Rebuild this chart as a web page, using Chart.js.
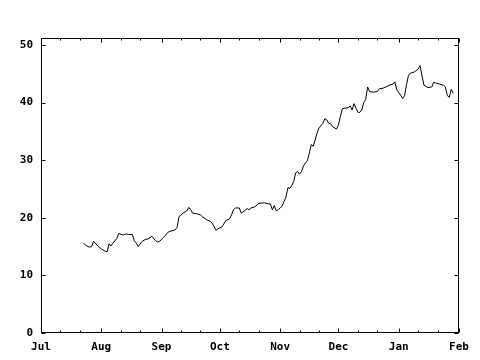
<!DOCTYPE html>
<html>
<head>
<meta charset="utf-8">
<script src="https://cdn.jsdelivr.net/npm/chart.js@4/dist/chart.umd.min.js"></script>
<style>
  html, body { margin: 0; padding: 0; background: #fff; }
  #wrap { width: 480px; height: 360px; }
</style>
</head>
<body>
<div id="wrap"><canvas id="chart" width="480" height="360"></canvas></div>
<script>
// days counted from Jul 1, price
const days = [22, 23, 25, 26, 27, 29, 31, 33, 34, 35, 36, 37, 39, 40, 42, 43, 44, 45, 47, 48,
  49, 50, 52, 54, 55, 57, 59, 60, 61, 63, 64, 65, 66, 69, 70, 71, 73, 75, 76, 77,
  78, 80, 82, 83, 85, 87, 88, 89, 90, 91, 93, 94, 95, 97, 98, 99, 100, 102, 103, 105,
  106, 107, 108, 110, 112, 115, 117, 118, 119, 120, 121, 122, 123, 124, 125, 126, 127, 128, 129, 130,
  131, 132, 133, 134, 135, 136, 137, 138, 139, 140, 141, 142, 143, 145, 146, 147, 148, 149, 150, 152,
  153, 154, 155, 156, 158, 159, 160, 161, 163, 164, 165, 166, 167, 168, 169, 171, 173, 174, 176, 178,
  179, 181, 182, 183, 184, 185, 186, 187, 188, 189, 190, 192, 194, 195, 196, 197, 199, 201, 202, 203,
  205, 207, 208, 209, 210, 211, 212];
const prices = [15.6, 15.2, 14.9, 15.0, 15.9, 15.2, 14.6, 14.2, 14.1, 15.5, 15.1, 15.6, 16.4, 17.3, 17.0, 17.1, 17.2, 17.1, 17.1, 16.0,
  15.6, 15.0, 15.9, 16.3, 16.3, 16.8, 16.0, 15.8, 15.9, 16.6, 16.9, 17.4, 17.6, 17.9, 18.3, 20.2, 20.8, 21.2, 21.8, 21.4,
  20.8, 20.7, 20.5, 20.2, 19.7, 19.4, 19.1, 18.5, 17.8, 18.1, 18.4, 18.9, 19.5, 19.8, 20.5, 21.4, 21.7, 21.7, 20.8, 21.3,
  21.6, 21.4, 21.7, 21.9, 22.5, 22.6, 22.4, 22.4, 21.4, 22.1, 21.2, 21.4, 21.7, 22.0, 22.8, 23.6, 25.2, 25.1, 25.6, 26.3,
  27.8, 28.0, 27.6, 28.0, 29.0, 29.5, 29.9, 31.2, 32.7, 32.4, 33.5, 34.7, 35.6, 36.4, 37.2, 37.0, 36.4, 36.3, 35.8, 35.4,
  36.1, 37.6, 38.9, 39.0, 39.1, 39.4, 38.7, 39.8, 38.3, 38.3, 38.7, 40.0, 40.5, 42.7, 41.9, 41.8, 41.9, 42.4, 42.5, 42.8,
  43.0, 43.2, 43.6, 42.2, 41.7, 41.3, 40.7, 41.2, 43.1, 44.7, 45.1, 45.3, 45.8, 46.4, 44.6, 43.0, 42.6, 42.7, 43.5, 43.4,
  43.2, 43.0, 42.7, 41.2, 40.9, 42.3, 41.6];

const monthLabels = ['Jul', 'Aug', 'Sep', 'Oct', 'Nov', 'Dec', 'Jan', 'Feb'];
const monthStarts = [0, 31, 62, 92, 123, 153, 184, 215];
const yTicks = [0, 10, 20, 30, 40, 50];

const points = days.map((d, i) => ({x: d, y: prices[i]}));

// minor ticks on the 11th and 21st of every month
const minorDays = [];
for (let i = 0; i < monthStarts.length - 1; i++) {
    minorDays.push(monthStarts[i] + 10, monthStarts[i] + 20);
}

const frameTicks = {
    id: 'frameTicks',
    afterDraw(chart) {
        const {ctx, chartArea: a, scales} = chart;
        const L = a.left + 0.5, R = a.right - 0.5, T = a.top + 0.5, B = a.bottom - 0.5;
        ctx.save();
        ctx.strokeStyle = '#000';
        ctx.lineWidth = 1;
        ctx.strokeRect(L, T, R - L, B - T);
        ctx.beginPath();
        yTicks.forEach(v => {
            const y = Math.round(scales.y.getPixelForValue(v)) + 0.5;
            ctx.moveTo(L, y); ctx.lineTo(L + 4, y);
            ctx.moveTo(R, y); ctx.lineTo(R - 4, y);
        });
        monthStarts.forEach(d => {
            const x = Math.round(scales.x.getPixelForValue(d)) + 0.5;
            ctx.moveTo(x, B); ctx.lineTo(x, B - 4);
            ctx.moveTo(x, T); ctx.lineTo(x, T + 4);
        });
        minorDays.forEach(d => {
            const x = Math.round(scales.x.getPixelForValue(d)) + 0.5;
            ctx.moveTo(x, B); ctx.lineTo(x, B - 2);
            ctx.moveTo(x, T); ctx.lineTo(x, T + 2);
        });
        ctx.stroke();
        ctx.restore();
    }
};

const labelFont = {family: '"DejaVu Sans Mono"', size: 11, weight: 'bold'};

new Chart(document.getElementById('chart').getContext('2d'), {
    type: 'line',
    data: {
        datasets: [{
            data: points,
            borderColor: '#000',
            borderWidth: 1,
            pointRadius: 0,
            tension: 0,
            fill: false
        }]
    },
    options: {
        responsive: false,
        animation: false,
        layout: {padding: {left: 0, right: 21, top: 38, bottom: 0}},
        plugins: {legend: {display: false}, tooltip: {enabled: false}},
        scales: {
            x: {
                type: 'linear',
                min: 0,
                max: 215,
                grid: {display: false, drawTicks: false},
                border: {display: false},
                afterBuildTicks: s => { s.ticks = monthStarts.map(v => ({value: v})); },
                afterFit: s => { s.height = 27; },
                ticks: {
                    autoSkip: false,
                    maxRotation: 0,
                    padding: 8,
                    color: '#000',
                    font: labelFont,
                    callback: (v, i) => monthLabels[i]
                }
            },
            y: {
                min: 0,
                max: 51.2,
                grid: {display: false, drawTicks: false},
                border: {display: false},
                afterBuildTicks: s => { s.ticks = yTicks.map(v => ({value: v})); },
                afterFit: s => { s.width = 41; },
                ticks: {
                    padding: 8,
                    color: '#000',
                    font: labelFont
                }
            }
        }
    },
    plugins: [frameTicks]
});
</script>
</body>
</html>
